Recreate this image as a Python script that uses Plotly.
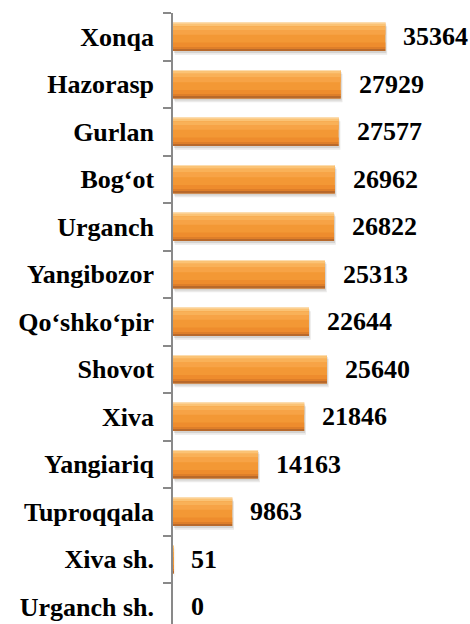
import plotly.graph_objects as go

categories = ["Xonqa", "Hazorasp", "Gurlan", "Bog‘ot", "Urganch", "Yangibozor",
              "Qo‘shko‘pir", "Shovot", "Xiva", "Yangiariq", "Tuproqqala",
              "Xiva sh.", "Urganch sh."]
values = [35364, 27929, 27577, 26962, 26822, 25313, 22644, 25640, 21846, 14163, 9863, 51, 0]

FONT = "Liberation Serif"

fig = go.Figure()

# soft shadow
fig.add_trace(go.Bar(x=values, y=categories, orientation="h", base=300,
                     width=0.6, offset=-0.22, marker=dict(color="rgba(90,80,70,0.12)", line=dict(width=0)),
                     hoverinfo="skip", showlegend=False))
fig.add_trace(go.Bar(x=values, y=categories, orientation="h", base=150,
                     width=0.6, offset=-0.26, marker=dict(color="rgba(90,80,70,0.15)", line=dict(width=0)),
                     hoverinfo="skip", showlegend=False))
# stripes simulating the bevelled gradient (offset, width, color)
stripes = [
    (-0.30, 0.60, "#F39835"),
    (-0.30, 0.02, "#FCDDB0"),
    (-0.28, 0.06, "#FBC375"),
    (-0.22, 0.08, "#F9B158"),
    (-0.14, 0.10, "#F7A346"),
    (0.12, 0.10, "#EE8C2D"),
    (0.22, 0.04, "#DE7E29"),
    (0.26, 0.04, "#B8692B"),
]
for off, w, col in stripes:
    fig.add_trace(go.Bar(x=values, y=categories, orientation="h",
                         width=w, offset=off,
                         marker=dict(color=col, line=dict(width=0)),
                         hoverinfo="skip", showlegend=False))

for c, v in zip(categories, values):
    fig.add_annotation(x=v, y=c, text="<b>%d</b>" % v, showarrow=False, xanchor="left",
                       xshift=16, yshift=0,
                       font=dict(family=FONT, size=26, color="black"))

fig.update_layout(
    width=470, height=624,
    margin=dict(l=173, r=0, t=13, b=0, autoexpand=False),
    barmode="overlay",
    plot_bgcolor="white", paper_bgcolor="white",
    xaxis=dict(visible=False, range=[0, 49460], automargin=False),
    yaxis=dict(type="category", categoryorder="array", categoryarray=categories,
               range=[12.363, -0.5], showline=True, linecolor="#898989", linewidth=1.5,
               ticks="outside", ticklen=8, tickwidth=1.5, tickcolor="#898989",
               tickson="boundaries", ticklabelstandoff=12, showgrid=False, zeroline=False,
               automargin=False,
               tickvals=categories, ticktext=["<b>%s</b>" % c for c in categories],
               tickfont=dict(family=FONT, size=26, color="black")),
)

fig.write_html("out.html", config={"displayModeBar": False},
               post_script="document.body.style.margin='0';document.body.style.padding='0';")
